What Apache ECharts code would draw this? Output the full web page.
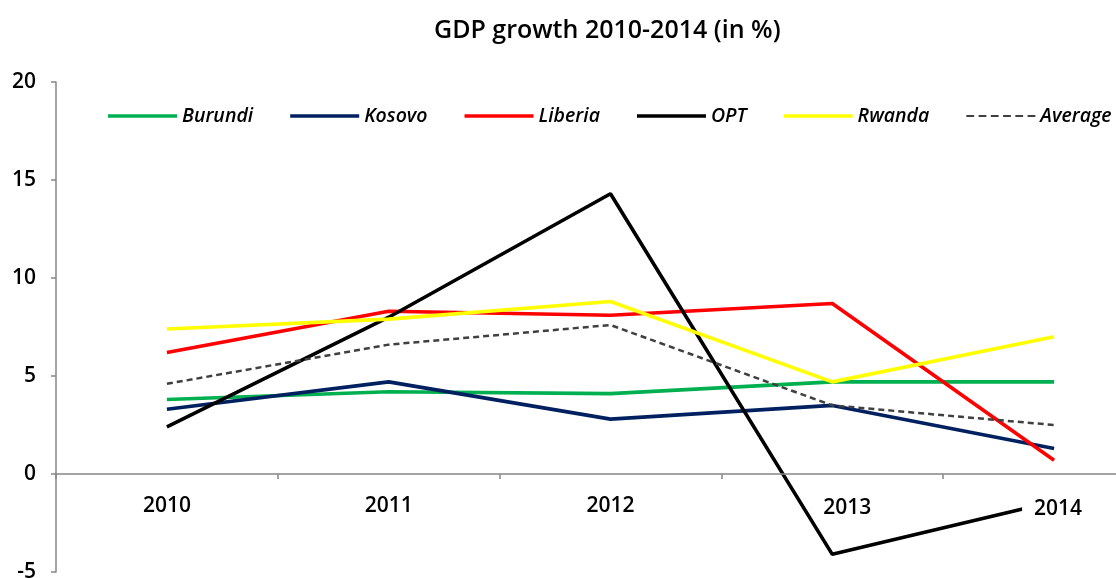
<!DOCTYPE html>
<html>
<head>
<meta charset="utf-8">
<script src="https://cdn.jsdelivr.net/npm/echarts@6/dist/echarts.min.js"></script>
<style>
  html, body { margin: 0; padding: 0; background: #fff; }
  #chart { width: 1116px; height: 578px; }
</style>
</head>
<body>
<div id="chart"></div>
<script>
// Real GDP growth, annual %, 2010-2014
const years   = ['2010', '2011', '2012', '2013', '2014'];
const burundi = [3.8, 4.2, 4.1, 4.7, 4.7];
const kosovo  = [3.3, 4.7, 2.8, 3.5, 1.3];
const liberia = [6.2, 8.3, 8.1, 8.7, 0.7];
const opt     = [2.4, 8.0, 14.3, -4.1, -1.4];
const rwanda  = [7.4, 7.9, 8.8, 4.7, 7.0];
const average = [4.6, 6.6, 7.6, 3.5, 2.5];
const yTicks  = [-5, 0, 5, 10, 15, 20];

const FONT = 'Open Sans';
const WEIGHT = 600;
const AXIS_GREY = '#868686';

// plot box: y = 20 at the top edge, y = -5 at the bottom edge
const GRID = { left: 56, right: -49, top: 82, bottom: 6 };
const PLOT_H = 578 - GRID.top - GRID.bottom;
// lift the category axis from the bottom edge up to the zero line
const zeroOffset = -PLOT_H * (0 - yTicks[0]) / (yTicks[yTicks.length - 1] - yTicks[0]);

function lineSeries(name, data, color, width, type) {
  return {
    name: name,
    type: 'line',
    data: data,
    symbol: 'none',
    showSymbol: false,
    z: 2,
    lineStyle: { color: color, width: width, type: type || 'solid' },
    itemStyle: { color: color }
  };
}

// short dashes for the Average key
const dashIcon = 'path://M0,0h7v2h-7z M11,0h7v2h-7z M22,0h7v2h-7z M33,0h7v2h-7z M44,0h7v2h-7z M55,0h7v2h-7z';

// the 2013 label sits a little right of its point; 2014 gets a white box over the OPT line
const categoryData = years.map(function (y) {
  if (y === '2013') return { value: y, textStyle: { padding: [2, 0, 0, 30] } };
  if (y === '2014') return { value: y, textStyle: { backgroundColor: '#fff', padding: [3, 4, 3, 12] } };
  return y;
});

const chart = echarts.init(document.getElementById('chart'), null, { renderer: 'canvas' });
chart.setOption({
  backgroundColor: '#fff',
  animation: false,
  title: {
    text: 'GDP growth 2010-2014 (in %)',
    left: 434,
    top: 18,
    padding: 0,
    textStyle: { fontFamily: FONT, fontSize: 25, fontWeight: WEIGHT, color: '#000' }
  },
  legend: {
    left: 108,
    top: 106,
    width: 1120,
    padding: 0,
    icon: 'rect',
    itemWidth: 69,
    itemHeight: 3.5,
    itemGap: 37,
    textStyle: { fontFamily: FONT, fontSize: 19.5, fontStyle: 'italic', fontWeight: WEIGHT, color: '#000' },
    data: [
      { name: 'Burundi' },
      { name: 'Kosovo' },
      { name: 'Liberia' },
      { name: 'OPT' },
      { name: 'Rwanda' },
      { name: 'Average', icon: dashIcon, itemStyle: { color: '#404040' } }
    ]
  },
  grid: Object.assign({ containLabel: false, outerBoundsMode: 'none' }, GRID),
  xAxis: {
    type: 'category',
    data: categoryData,
    boundaryGap: true,
    position: 'bottom',
    offset: zeroOffset,
    z: 5,
    axisLine: { onZero: false, lineStyle: { color: AXIS_GREY, width: 1.5 } },
    axisTick: { show: true, length: 5, lineStyle: { color: AXIS_GREY, width: 1.5 } },
    axisLabel: { margin: 22, fontFamily: FONT, fontSize: 21, fontWeight: WEIGHT, color: '#000' },
    splitLine: { show: false }
  },
  yAxis: {
    type: 'value',
    min: yTicks[0],
    max: yTicks[yTicks.length - 1],
    interval: yTicks[1] - yTicks[0],
    axisLine: { show: true, lineStyle: { color: AXIS_GREY, width: 1.5 } },
    axisTick: { show: true, length: 5, lineStyle: { color: AXIS_GREY, width: 1.5 } },
    axisLabel: { margin: 20, fontFamily: FONT, fontSize: 21, fontWeight: WEIGHT, color: '#000' },
    splitLine: { show: false }
  },
  series: [
    lineSeries('Burundi', burundi, '#00B050', 3.6),
    lineSeries('Kosovo',  kosovo,  '#002060', 3.6),
    lineSeries('Liberia', liberia, '#FF0000', 3.6),
    lineSeries('OPT',     opt,     '#000000', 3.6),
    lineSeries('Rwanda',  rwanda,  '#FFFF00', 3.6),
    lineSeries('Average', average, '#404040', 2.5, [6, 4])
  ]
});
</script>
</body>
</html>
